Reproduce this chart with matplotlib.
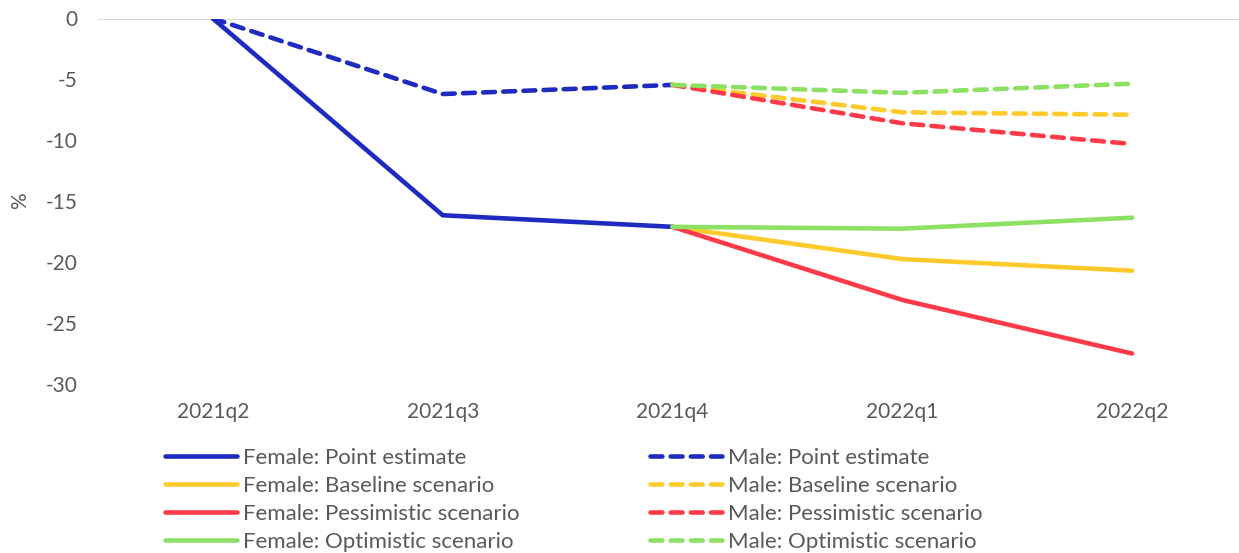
import matplotlib.pyplot as plt
import numpy as np

plt.rcParams['font.family'] = ['Lato', 'DejaVu Sans']
plt.rcParams['axes.unicode_minus'] = False

quarters = ['2021q2', '2021q3', '2021q4', '2022q1', '2022q2']

# point estimates up to 2021q4, then scenarios from 2021q4 to 2022q2
female_point = [0, -16.15, -17.1]
male_point = [0, -6.2, -5.45]

female_baseline = [-17.1, -19.75, -20.7]
female_pessimistic = [-17.1, -23.1, -27.5]
female_optimistic = [-17.1, -17.25, -16.35]

male_baseline = [-5.45, -7.7, -7.9]
male_pessimistic = [-5.45, -8.6, -10.3]
male_optimistic = [-5.45, -6.1, -5.35]

blue = '#1f2bc0'
yellow = '#ffca2c'
red = '#ff3b4a'
green = '#8ce063'
grey = '#595959'

W, H = 1239, 553
fig = plt.figure(figsize=(W / 100, H / 100), dpi=100)
ax = fig.add_axes([98 / W, 1 - 384 / H, 1 - 98 / W, (384 - 18.5) / H])

x_hist = np.arange(3)
x_scen = np.arange(2, 5)
lw = 3.3
dash = (2.6, 1.8)

lines = {}
lines['f_point'], = ax.plot(x_hist, female_point, color=blue, lw=lw, solid_capstyle='round')
lines['m_point'], = ax.plot(x_hist, male_point, color=blue, lw=lw, ls=(0, dash), dash_capstyle='round')

lines['f_base'], = ax.plot(x_scen, female_baseline, color=yellow, lw=lw, solid_capstyle='round')
lines['f_pess'], = ax.plot(x_scen, female_pessimistic, color=red, lw=lw, solid_capstyle='round')
lines['f_opt'], = ax.plot(x_scen, female_optimistic, color=green, lw=lw, solid_capstyle='round')

lines['m_base'], = ax.plot(x_scen, male_baseline, color=yellow, lw=lw, ls=(0, dash), dash_capstyle='round')
lines['m_pess'], = ax.plot(x_scen, male_pessimistic, color=red, lw=lw, ls=(0, dash), dash_capstyle='round')
lines['m_opt'], = ax.plot(x_scen, male_optimistic, color=green, lw=lw, ls=(0, dash), dash_capstyle='round')

ax.set_xlim(-0.5, 4.465)
ax.set_ylim(-30, 0)
ax.set_yticks(np.arange(-30, 1, 5))
ax.set_xticks(np.arange(len(quarters)))
ax.set_xticklabels(quarters)
ax.tick_params(axis='both', length=0, labelsize=15, labelcolor=grey)
ax.tick_params(axis='x', pad=13)
ax.tick_params(axis='y', pad=15)

for s in ['top', 'right', 'bottom', 'left']:
    ax.spines[s].set_visible(False)
ax.axhline(0, color='#d9d9d9', lw=1.5, zorder=0)

fig.text(20 / W, 1 - 201 / H, '%', rotation=90, fontsize=15, color=grey,
         ha='center', va='center')

labels_f = ['Female: Point estimate', 'Female: Baseline scenario',
            'Female: Pessimistic scenario', 'Female: Optimistic scenario']
labels_m = ['Male: Point estimate', 'Male: Baseline scenario',
            'Male: Pessimistic scenario', 'Male: Optimistic scenario']
handles_f = [lines['f_point'], lines['f_base'], lines['f_pess'], lines['f_opt']]
handles_m = [lines['m_point'], lines['m_base'], lines['m_pess'], lines['m_opt']]

leg_kw = dict(loc='upper left', frameon=False, fontsize=16, labelcolor=grey,
              handletextpad=0.27, labelspacing=0.36, borderaxespad=0, borderpad=0)
fig.legend(handles_f, labels_f, bbox_to_anchor=(165 / W, 1 - 448 / H),
           handlelength=3.25, **leg_kw)
fig.legend(handles_m, labels_m, bbox_to_anchor=(650 / W, 1 - 448 / H),
           handlelength=3.25, **leg_kw)

fig.savefig('out.png', dpi=100)
